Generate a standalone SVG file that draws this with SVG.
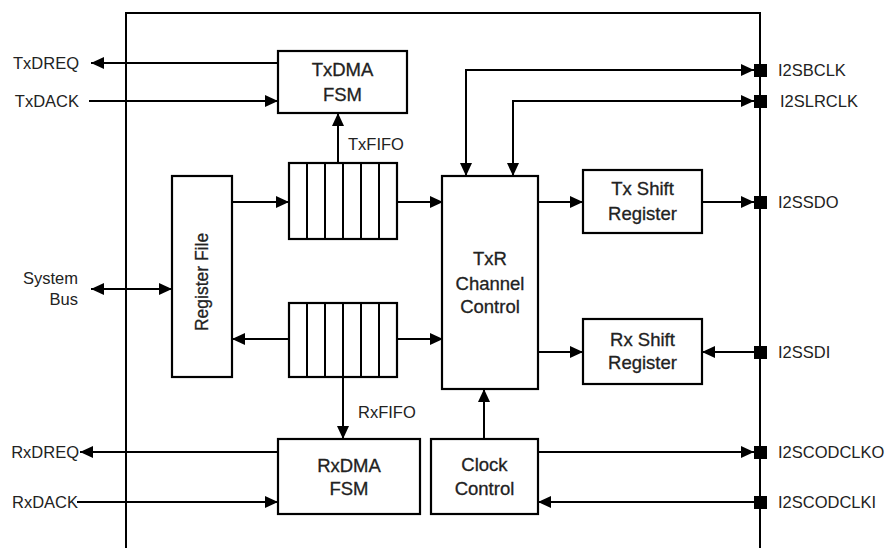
<svg xmlns="http://www.w3.org/2000/svg" width="887" height="548" viewBox="0 0 887 548">
<defs>
<marker id="ah" markerUnits="userSpaceOnUse" markerWidth="13" markerHeight="12" refX="13" refY="6" orient="auto-start-reverse">
<path d="M0,0 L13,6 L0,12 z" fill="#000"/>
</marker>
<style>
.l{stroke:#000;stroke-width:2;fill:none}
.a{stroke:#000;stroke-width:2;fill:none;marker-end:url(#ah)}
.b{stroke:#000;stroke-width:2;fill:none;marker-end:url(#ah);marker-start:url(#ah)}
.bx{stroke:#000;stroke-width:2.2;fill:#fff}
.t{font-family:"Liberation Sans",Arial,sans-serif;font-size:16.5px;fill:#222}
.n{font-size:18.5px;stroke:#222;stroke-width:0.3}
.c{text-anchor:middle}
.e{text-anchor:end}
.pin{fill:#000}
</style>
</defs>
<rect width="887" height="548" fill="#fff"/>
<g id="frame">
<path class="l" d="M126,548 V13 H760 V548"/>
</g>
<g id="connectors">
<path class="a" d="M278,63 H91"/>
<path class="a" d="M89,101 H278"/>
<path class="a" d="M338,163 V113"/>
<path class="b" d="M91,289 H172"/>
<path class="a" d="M232,202 H289"/>
<path class="a" d="M397,202 H443"/>
<path class="a" d="M289,339 H232"/>
<path class="a" d="M397,339 H443"/>
<path class="a" d="M343,377 V439"/>
<path class="b" d="M754,70 H466 V176"/>
<path class="b" d="M754,101 H513 V176"/>
<path class="a" d="M538,202 H583"/>
<path class="a" d="M702,202 H754"/>
<path class="a" d="M538,352 H583"/>
<path class="a" d="M754,352 H702"/>
<path class="a" d="M484,439 V389"/>
<path class="a" d="M538,452 H754"/>
<path class="a" d="M754,502 H538"/>
<path class="a" d="M278,452 H80"/>
<path class="a" d="M77,502 H278"/>
</g>
<g id="pins">
<rect class="pin" x="754" y="64" width="13" height="13"/>
<rect class="pin" x="754" y="95" width="13" height="13"/>
<rect class="pin" x="754" y="196" width="13" height="13"/>
<rect class="pin" x="754" y="346" width="13" height="13"/>
<rect class="pin" x="754" y="446" width="13" height="13"/>
<rect class="pin" x="754" y="496" width="13" height="13"/>
</g>
<g id="txdma">
<rect class="bx" x="278" y="51" width="129" height="62"/>
<text class="t n c" x="342.5" y="76">TxDMA</text>
<text class="t n c" x="342.5" y="101">FSM</text>
</g>
<g id="txfifo">
<rect class="bx" x="289" y="163" width="108" height="76"/>
<path class="l" d="M307,163 V239 M325,163 V239 M343,163 V239 M361,163 V239 M379,163 V239"/>
</g>
<g id="rxfifo">
<rect class="bx" x="289" y="303" width="108" height="74"/>
<path class="l" d="M307,303 V377 M325,303 V377 M343,303 V377 M361,303 V377 M379,303 V377"/>
</g>
<g id="regfile">
<rect class="bx" x="172" y="176" width="60" height="201"/>
<text class="t c" style="font-size:17.5px;stroke:#222;stroke-width:0.3" transform="translate(208,282) rotate(-90)" x="0" y="0">Register File</text>
</g>
<g id="txr">
<rect class="bx" x="442" y="176" width="96" height="213"/>
<text class="t n c" x="490" y="265">TxR</text>
<text class="t n c" x="490" y="290">Channel</text>
<text class="t n c" x="490" y="313">Control</text>
</g>
<g id="txshift">
<rect class="bx" x="583" y="170" width="119" height="63"/>
<text class="t n c" x="642.5" y="195">Tx Shift</text>
<text class="t n c" x="642.5" y="220">Register</text>
</g>
<g id="rxshift">
<rect class="bx" x="583" y="319" width="119" height="65"/>
<text class="t n c" x="642.5" y="346">Rx Shift</text>
<text class="t n c" x="642.5" y="369">Register</text>
</g>
<g id="clock">
<rect class="bx" x="431" y="439" width="107" height="75"/>
<text class="t n c" x="484.5" y="471">Clock</text>
<text class="t n c" x="484.5" y="495">Control</text>
</g>
<g id="rxdma">
<rect class="bx" x="278" y="439" width="142" height="75"/>
<text class="t n c" x="349" y="472">RxDMA</text>
<text class="t n c" x="349" y="495">FSM</text>
</g>
<g id="labels">
<text class="t e" x="79" y="69">TxDREQ</text>
<text class="t e" x="79" y="107">TxDACK</text>
<text class="t e" x="78" y="284">System</text>
<text class="t e" x="78" y="305">Bus</text>
<text class="t e" x="79" y="458">RxDREQ</text>
<text class="t e" x="78" y="508">RxDACK</text>
<text class="t" x="348" y="150">TxFIFO</text>
<text class="t" x="358" y="418">RxFIFO</text>
<text class="t" x="778" y="76">I2SBCLK</text>
<text class="t" x="780" y="107">I2SLRCLK</text>
<text class="t" x="778" y="208">I2SSDO</text>
<text class="t" x="778" y="358">I2SSDI</text>
<text class="t" x="778" y="458">I2SCODCLKO</text>
<text class="t" x="778" y="508">I2SCODCLKI</text>
</g>
</svg>
